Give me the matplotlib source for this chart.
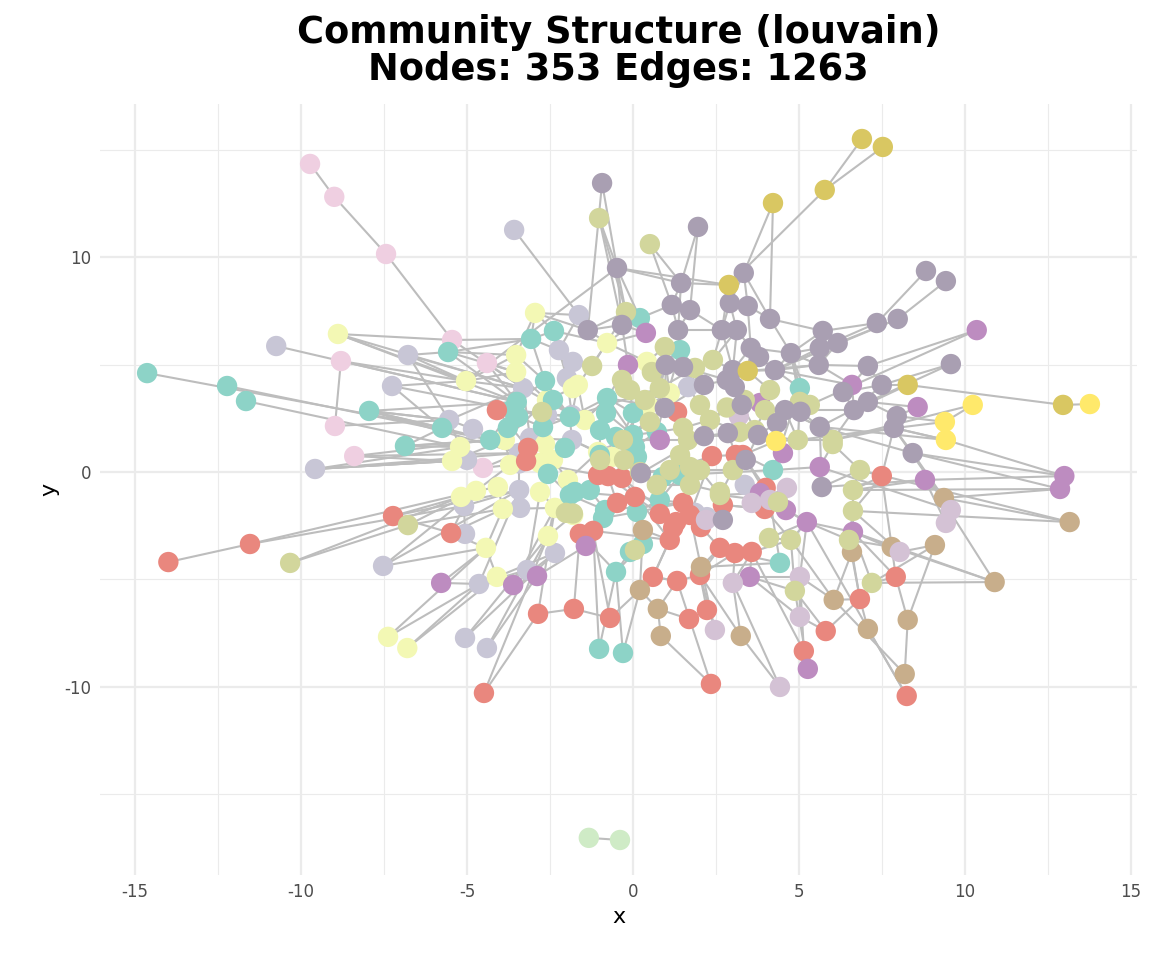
import numpy as np
import matplotlib
matplotlib.use("Agg")
import matplotlib.pyplot as plt
from matplotlib.collections import LineCollection
from matplotlib.ticker import FixedLocator

# ---- node positions per community ----
A_x = [-14.64,-12.23,-11.66,-7.95,-6.87,-5.75,-5.57,-3.07,-2.38,-3.5,-2.65,-4.3,-3.64,-1.9,-0.78,0.21,1.42,0.0,-1.0,-1.3,-0.84,-2.56,-1.9,0.12,0.81,0.3,-0.51,-1.02,-0.3,4.43,4.22,5.03,0.72,1.42,
       -2.41,-3.46,-0.81,-3.77,-2.71,-0.99,-0.51,-2.05,0.12,-1.75,-0.9,-0.09,0.0,0.9,0.06]
A_y = [4.6,4.0,3.3,2.84,1.21,2.05,5.58,6.19,6.56,3.26,4.23,1.49,2.9,2.56,3.44,7.16,5.67,1.72,0.79,-0.84,-1.77,-0.09,-1.07,-1.86,-1.3,-3.35,-4.65,-8.23,-8.42,-4.23,0.09,3.9,1.86,-0.14,
       3.35,2.56,2.74,2.05,2.09,1.95,1.63,1.12,0.7,-0.93,-2.14,-3.72,2.74,-0.23,1.16]

B_x = [-8.89,-5.03,-5.21,-5.45,-5.18,-4.73,-4.43,-4.1,-7.38,-6.8,-2.95,-3.52,-3.52,-1.66,-0.78,-2.59,-3.86,-3.7,-3.92,-2.8,-2.41,-2.35,-2.56,-1.8,-1.05,-0.63,1.11,0.45,-1.96,-1.45,
       -1.81,-2.65,-4.07,-2.8,0.42]
B_y = [6.42,4.23,1.16,0.51,-1.16,-0.88,-3.53,-4.88,-7.67,-8.19,7.4,5.44,4.65,4.05,6.0,3.35,1.49,0.33,-1.72,0.42,0.56,-1.67,-2.98,-2.0,0.93,0.7,3.67,3.12,-0.37,2.42,
       3.9,1.3,-0.7,-0.93,5.12]

C_x = [-10.75,-9.58,-7.26,-6.78,-7.53,-5.06,-4.4,-4.64,-5.09,-5.54,-3.58,-1.63,-2.23,-1.99,-1.84,-3.31,-3.43,-3.1,-3.43,-2.35,-0.84,-1.84,2.23,3.37,
       -1.81,-2.59,-4.82,-5.0,-3.4,-5.06,-3.19,1.66,1.87,-3.43]
C_y = [5.86,0.14,4.0,5.44,-4.37,-7.72,-8.19,-5.21,-1.58,2.42,11.26,7.3,5.67,4.37,2.65,3.9,0.88,1.58,-0.84,-3.77,0.74,1.49,-2.1,-0.6,
       5.12,2.65,2.0,0.56,-1.67,-2.88,-4.56,3.95,-1.9,0.4]

D_x = [-14.0,-11.54,-7.23,-5.48,-4.1,-3.16,-3.22,-2.86,-1.78,-0.69,-4.49,2.35,2.23,1.69,0.6,1.11,1.72,1.3,1.33,2.05,2.02,2.62,3.07,3.58,2.71,3.1,4.0,3.97,2.38,-0.75,-1.05,0.06,-1.6,-1.2,0.81,1.33,5.15,5.81,6.84,7.92,7.5,8.25,3.31,
       -0.48,1.51,1.21,-0.33]
D_y = [-4.19,-3.35,-2.05,-2.84,2.88,1.12,0.51,-6.6,-6.37,-6.79,-10.28,-9.86,-6.42,-6.84,-4.88,-3.16,-2.0,-2.33,-5.07,-2.56,-4.79,-3.53,-3.77,-3.72,-1.53,0.79,-0.74,-1.72,0.74,-0.19,-0.14,-1.16,-2.88,-2.74,-1.95,2.79,-8.33,-7.4,-5.91,-4.88,-0.19,-10.42,0.79,
       -1.44,-1.44,-2.6,-0.28]

E_x = [10.36,13.0,12.87,8.8,8.58,6.6,5.63,5.24,5.27,6.63,3.52,-5.78,-3.61,-2.89,-1.42,0.39,0.81,-0.15,4.61,3.83,3.83,4.52]
E_y = [6.6,-0.19,-0.79,-0.37,3.02,4.05,0.23,-2.33,-9.16,-2.79,-4.88,-5.16,-5.26,-4.84,-3.44,6.47,1.49,4.98,-1.77,-0.98,3.21,0.88]

F_x = [-9.73,-9.0,-7.44,-8.8,-8.98,-8.4,-5.45,-4.4,-4.52]
F_y = [14.33,12.8,10.14,5.16,2.14,0.74,6.14,5.07,0.19]

G_x = [-1.02,0.51,-0.21,-10.33,-6.78,-1.81,0.81,1.87,2.41,2.02,3.22,4.13,4.97,5.03,5.33,6.02,6.02,6.84,6.63,6.63,4.76,6.51,4.88,7.2,2.62,2.02,3.01,0.72,0.36,-0.3,-0.27,0.21,1.42,1.66,1.11,1.51,2.32,3.37,3.98,-0.99,-2.02,1.72,3.67,
       -1.23,-0.33,-0.09,-2.74,0.06,0.96,0.57,2.83,0.51,4.37,4.1,-0.24,2.62,1.72]
G_y = [11.81,10.6,7.44,-4.23,-2.47,-1.93,3.9,4.84,5.21,3.12,1.86,3.81,1.49,3.26,3.12,1.49,1.3,0.09,-0.84,-1.81,-3.16,-3.16,-5.53,-5.16,-1.07,0.09,0.09,-0.6,3.35,1.49,0.56,0.0,0.79,1.49,0.09,2.05,2.42,3.35,2.88,0.56,-1.9,-0.6,1.95,
       4.93,4.28,3.81,2.79,-3.63,5.81,4.65,3.0,2.33,-1.4,-3.07,3.9,-0.93,0.23]

H_x = [-0.93,1.96,-0.48,3.34,8.83,9.43,9.58,7.35,7.98,7.08,7.5,7.08,6.66,7.95,7.86,8.43,5.72,6.17,5.63,5.6,5.63,5.69,1.45,1.17,1.72,1.36,2.92,3.46,4.13,2.68,3.13,3.55,3.8,3.01,2.83,2.14,4.28,4.76,4.58,3.28,3.77,2.14,2.86,0.96,-1.36,-0.33,0.99,0.24,3.4,2.71,
       1.51,3.07,6.33,4.34,5.05]
H_y = [13.44,11.4,9.49,9.26,9.35,8.88,5.02,6.93,7.12,4.93,4.05,3.26,2.88,2.6,2.05,0.88,6.56,6.0,5.77,4.98,2.1,-0.7,8.79,7.77,7.53,6.6,7.86,7.72,7.12,6.6,6.6,5.77,5.35,4.74,4.28,4.05,4.74,5.53,2.88,3.12,1.72,1.67,1.81,2.98,6.6,6.84,4.98,-0.05,0.56,-2.23,
       4.88,3.95,3.72,2.28,2.8]

I_x = [6.9,7.53,5.78,4.22,2.89,3.46,8.28,12.96]
I_y = [15.49,15.12,13.12,12.51,8.7,4.7,4.05,3.12]

J_x = [10.9,13.16,9.37,9.1,8.28,8.19,7.08,6.05,6.6,7.8,0.75,0.84,0.21,0.3,2.05,3.25]
J_y = [-5.12,-2.33,-1.21,-3.4,-6.88,-9.4,-7.3,-5.95,-3.72,-3.49,-6.37,-7.63,-5.49,-2.7,-4.42,-7.63]

K_x = [13.77,10.24,9.4,9.43,4.31]
K_y = [3.16,3.12,2.33,1.49,1.44]

L_x = [-1.33,-0.39]
L_y = [-17.02,-17.12]

M_x = [4.43,5.03,5.03,3.01,4.64,2.2,3.19,2.47,8.04,9.43,9.58,4.13,3.58]
M_y = [-10.0,-6.74,-4.88,-5.16,-0.74,-2.23,2.6,-7.35,-3.72,-2.37,-1.77,-1.3,-1.44]

community_colors = {
    "A": "#8DD3C7", "B": "#F3F8B4", "C": "#C8C6D6", "D": "#E9877E",
    "E": "#BD8CC0", "F": "#EFCFE1", "G": "#D2D69C", "H": "#A99FB2",
    "I": "#D9C762", "J": "#C8AE8B", "K": "#FFE96B", "L": "#CFEBC6",
    "M": "#D4C2D5",
}

communities = {
    "A": (A_x, A_y), "B": (B_x, B_y), "C": (C_x, C_y), "D": (D_x, D_y),
    "E": (E_x, E_y), "F": (F_x, F_y), "G": (G_x, G_y), "H": (H_x, H_y),
    "I": (I_x, I_y), "J": (J_x, J_y), "K": (K_x, K_y), "L": (L_x, L_y),
    "M": (M_x, M_y),
}
draw_order = ["F", "C", "B", "A", "D", "E", "J", "M", "G", "H", "I", "K", "L"]

# ---- edges (pairs of node ids) ----
edges_outer = """
F0-F1 F1-F2 F2-F6 F3-F4 F3-B1 F4-C9 F5-B3 F5-C16 F6-C15 F6-A6 F7-B12 F7-C15 F8-B17 F8-C16
B0-B1 B0-A9 C2-A12 C3-C15 A0-A5 A1-A11 A2-B2 A3-A9 A3-C16 A4-B16 A4-A11
C0-A9 C1-B3 C1-C16 D0-D1 D1-C8 G3-B4 G3-G4 G4-B5 D2-B4 D2-C18 D3-C8 D3-B18
C4-B5 C4-C18 B8-C7 B8-B6 B9-C7 B9-B7 C5-C19 C5-B22 C6-E13 C6-B22 D10-B22 D10-D7 E11-C7 E11-B6
C7-C18 E12-B21 E12-C19 D7-D8 D7-B21 D8-D9 D8-D32 D9-D33 D9-J12 A27-A26 A27-D33 A28-A26 A28-J12
B6-B18 B7-C19 D11-D18 D11-J11 D12-D13 D12-D20 D13-J10 D14-D18 D14-D15 J10-J12 J11-J10 J12-J13
J15-M3 J15-D20 M7-D20 M7-J14 M0-M3 M0-J15 E8-G22 E8-D36 D36-D23 D36-M2 D37-M1 D37-G22 D37-D38
D38-J8 D38-G21 M1-E10 M2-E10 M3-D22 E10-D23 A29-D22 A29-M11 G22-G20 D41-E7 D41-J6 J5-J7 J5-J4
J4-J3 J4-D39 J6-D38 J7-G20 J7-J8 J8-E9 J9-G21 J9-D40 J0-J9 J0-H15 J1-G17 J1-J2 J2-H15 J2-E3
J3-M8 M8-G19 M9-E3 M9-J2 M10-H14 M10-E6 D39-G23 D39-E9 G23-E9 G21-E9 G20-D23 D40-H14 D40-G18
E1-H15 E1-E3 E2-G18 E2-J2 E3-H21 E4-H11 E4-H13 I7-K0 I7-I6 I6-H12 I6-H10 K1-G15 K1-K2 K2-G12
K3-H20 K3-H14 K4-G10 K4-H40 E0-H9 E0-G14 H6-H10 H6-H11 H4-H7 H5-H8 H7-H16 H7-H18 H8-H17 H8-H36
H9-H19 H10-H12 H11-H20 H12-H38 H13-H14 H14-H15 H15-H20 H16-H17 H16-H18 H17-H19 H18-H37 H19-H36
H20-H38 H21-H20 H21-E6 I0-I2 I1-I2 I2-I4 I3-H3 H3-H27 H3-I4 I4-H26 I4-H2 H2-H22 H2-H0 G0-G2
G0-H2 G2-H45 G2-A15 G1-H23 H1-H22 H1-H24 C10-C11 C11-C12 C11-H44 H2-B1 H22-H23 H23-H24 H24-H25
H25-H29 H26-H27 H27-H28 H28-H37 H26-H29 H29-H30 H30-H31 H31-H32 H32-H36 H33-H34 H34-H35 H35-H43
H33-I5 I5-H36 H36-H37 H37-G13 H38-H39 H39-H40 H40-H41 H41-H42 H42-H39 H43-H46 H44-H45 H45-E15
E15-A15 A15-B14 H46-H35 H47-H41 H48-H40 H49-D24 H49-M5 L0-L1
"""

edges_center = """
A5-A11 A6-A7 A7-A8 A7-B10 A8-C12 A9-A10 A9-A12 A10-A13 A12-A13 A13-A14 A14-A17 A17-A18 A18-A19
A19-A20 A20-A22 A21-A22 A22-A19 A23-A24 A24-A33 A33-A30 A30-A31 A31-H37 A32-A17 A32-A16 A16-H25
A25-A26 A25-A23 A26-D32 A11-A12 A21-B19 A18-B24 A17-G29 A23-D31 A29-J14 A30-D26 A14-B29 A6-B11
A10-B15 B1-B11 B1-B12 B2-B3 B3-B16 B4-B5 B5-B17 B6-B7 B10-B11 B11-B12 B12-B15 B13-B14 B13-B29
B15-B16 B16-B17 B17-B19 B18-B21 B19-B20 B20-B28 B21-B22 B22-B23 B23-B28 B24-B25 B25-G30 B26-B27
B27-G28 B28-B24 B29-B15 B10-C11 B14-E15 B26-H46 B2-C9 B3-C1 B20-C16 C8-C18 C9-C15 C12-C13
C13-C14 C14-C15 C15-C17 C16-C17 C17-C21 C18-C16 C19-B22 C20-C21 C20-B24 C21-A13 C12-A8
D4-D5 D5-D6 D6-D30 D29-D30 D29-D31 D31-D34 D32-D33 D33-D15 D34-D17 D15-D17 D16-D17 D16-D19
D19-D24 D21-D22 D22-D23 D24-D27 D25-D42 D25-D28 D26-D27 D27-D24 D28-D16 D35-H43 D35-G35 D4-A12
D5-C17 D29-A19 D42-K4 D26-M11 D20-D21 D18-D14 E13-E12 E13-E14 E14-D32 E16-A32 E16-G29 E17-A14
E17-H45 E18-M4 E18-E19 E19-D26 E19-G24 E5-H19 E5-H36 E6-H21 E7-E9 E7-G20 E7-M11 G5-G40 G5-B23
G6-G28 G6-G7 G7-G8 G8-H29 G9-G36 G9-H35 G10-G36 G10-G42 G11-G38 G11-H36 G12-G13 G12-G15
G13-G14 G14-H37 G15-G16 G16-G17 G17-G18 G18-G19 G19-G21 G24-G25 G25-G26 G26-G24 G27-G31 G27-G41
G28-G29 G29-G30 G30-G31 G31-G34 G32-G33 G32-G34 G33-G35 G35-G36 G36-G37 G37-G38 G38-G42 G39-G30
G40-B28 G41-G25 G42-G10 G39-B24 G34-G41 H47-G31 H48-G26 H48-M11 M4-M11 M5-D19 M6-G10 M6-H39
M2-M1 I5-G11 I4-H29 K4-G12 G29-H43 B27-H43 A16-G7 H46-G6 B13-C13 A15-H23 G2-H44 A7-C12
H44-B14 C14-B29 G39-A18 D30-A18 D34-G27 D31-A23 A24-D34 J13-D15 J13-A25 J14-D21 J14-D20 G24-D24
D28-G25 H41-G33 H42-D25 G26-D42 H40-G42 G38-H38 H38-H20 G16-H20 G15-H14 H12-G15
"""

edges_extra = """
A34-A10 A34-B15 A34-C14 A35-A12 A35-A9 A36-A14 A36-A17 A37-A11 A37-A35 A38-A13 A38-A35 A39-A18
A39-A14 A40-A17 A40-A39 A41-A21 A41-B20 A42-A17 A42-G31 A43-A19 A43-A22 A44-A20 A44-A23 A45-A25
A45-A26 A46-A17 A46-A14 A47-A33 A47-A24 A48-A42 A48-A32 B30-B13 B30-B15 B31-B19 B31-A38 B32-B5
B32-B18 B33-B21 B33-C30 B34-B14 B34-G48 C24-C12 C24-C13 C25-C14 C25-A34 C26-C9 C26-A11 C27-C1
C27-B3 C28-C18 C28-B18 C29-D3 C29-C8 C30-C7 C30-E13 C31-G9 C31-H35 C32-M5 C32-D16 C33-C16 C33-D6
D43-D29 D43-D31 D44-D31 D44-A20 D45-D16 D45-D34 D46-D15 D46-D17 E20-H39 E20-G37 E21-K4 E21-G12
G43-G2 G43-C24 G44-G28 G44-E17 G45-G28 G45-A46 G46-A38 G46-C25 G47-A45 G47-J13 G48-G6 G48-H46
G49-G7 G49-A16 G50-G36 G50-H39 G51-G28 G51-A32 G52-G24 G52-M12 G53-G20 G53-E7 G54-G44 G54-E17
G55-G24 G55-G41 G56-G34 G56-G25 H50-H46 H50-H35 H51-H34 H51-H39 H52-H12 H52-H10 H53-H38 H53-H40
H54-H20 H54-G13 M12-M4 M12-D27
A5-C2 A5-A3 C9-A3 B2-A4 C9-C3 B1-C3 C15-B0 A9-F3 F5-A11 C1-B2 D2-D3
D3-B6 C4-B6 C8-B4 G4-B18 D1-B5
A13-G6 A14-H43 B24-G29 C20-G31 A18-G39 C21-B24 A12-A17 B29-A14 B13-C14 A17-G30 A17-H43 G28-H35
G28-H43 A32-G35 G29-G33 G32-H41 G34-D28 G31-G27 D29-A42 D30-G39 B25-A46 A24-G27 A33-G41 G27-D34
D31-A43 A23-D44 J13-A23 J13-G47 J14-D16 D19-D21 D20-D22 D24-H49 G24-H49 D17-D45 M5-D24 M5-H49
H47-G27 H47-G34 H47-D29
H38-G12 H20-G15 H21-G17 E6-G16 G17-D40 G18-E3 H14-K3 H13-K2 H12-E5 H11-H13 H9-H10 H9-E5
H19-H37 H17-H36 A31-G13 A31-H36 K4-H38 G12-H40 G42-H40 G10-H42 D42-H48 D25-G26 D42-A30
A30-E6 E19-A30 E18-E7 M11-D27 M11-E19 E19-G26 D27-G20 D26-H48
D15-D14 D14-J12 D18-J10 D18-D20 D20-J14 D21-J14 M3-E10 M3-D23 E10-G22 G22-M2 M2-E7 E7-G21
E9-G19 E9-J9 J8-G21 D38-J7 J7-M2 D39-J9 J3-G23 M8-J9 M8-E9 M9-M10 M10-J2 D40-G19 E1-K3
E2-H15 J1-G19 J0-G23 J0-E9
H22-H25 H23-H25 H24-H29 H22-G1 H2-A15 H2-H45 H45-A15 H44-C11 H44-B10 H0-H44 H2-G2 G0-H45
I4-H22 H3-H26 H3-H28 I3-H28 H26-H30 H28-H16 H27-H31 H30-H33 H31-H33 H31-H37 H32-H34 H34-H50
H35-H46 H46-E17 H25-A16 G7-H35 G8-H33 G8-H30 H29-H33 H16-H37 H18-H36 H19-I5 I5-H31
A6-A9 A6-B12 A7-A10 A8-B14 B10-A8 B11-A10 B12-A9 F6-A7 F7-A9 B0-F6 C2-B1 C3-A6 A3-A5 A4-A5
A3-C9 B1-C15
"""

edge_list = [e.split("-") for e in (edges_outer + edges_center + edges_extra).split()]


def pos(node_id):
    xs, ys = communities[node_id[0]]
    i = int(node_id[1:])
    return xs[i], ys[i]


fig = plt.figure(figsize=(11.52, 9.6), dpi=100)
ax = fig.add_axes([0.0868, 0.0885, 0.9002, 0.8032])

segs = [[pos(a), pos(b)] for a, b in edge_list]
lc = LineCollection(segs, colors="#BDBDBD", linewidths=1.5, zorder=2)
ax.add_collection(lc)

for key in draw_order:
    xs, ys = communities[key]
    ax.scatter(xs, ys, s=215, color=community_colors[key], edgecolors="none", zorder=3)

ax.set_xlim(-16.06, 15.19)
ax.set_ylim(-18.75, 17.12)

ax.xaxis.set_major_locator(FixedLocator([-15, -10, -5, 0, 5, 10, 15]))
ax.xaxis.set_minor_locator(FixedLocator([-12.5, -7.5, -2.5, 2.5, 7.5, 12.5]))
ax.yaxis.set_major_locator(FixedLocator([-10, 0, 10]))
ax.yaxis.set_minor_locator(FixedLocator([-15, -5, 5, 15]))
ax.grid(which="major", color="#EBEBEB", linewidth=1.6, zorder=0)
ax.grid(which="minor", color="#EBEBEB", linewidth=0.8, zorder=0)
ax.set_axisbelow(True)
for s in ax.spines.values():
    s.set_visible(False)
ax.tick_params(which="both", length=0, labelsize=12, labelcolor="#4D4D4D", pad=6)
ax.set_xticklabels(["-15", "-10", "-5", "0", "5", "10", "15"])
ax.set_yticklabels(["-10", "0", "10"])
ax.set_xlabel("x", fontsize=16, labelpad=4)
ax.set_ylabel("y", fontsize=16, labelpad=4)

fig.suptitle("Community Structure (louvain)\nNodes: 353 Edges: 1263", x=0.537, y=0.985,
             fontsize=26.5, fontweight="bold", linespacing=1.0, va="top")

fig.savefig("out.png", dpi=100)
